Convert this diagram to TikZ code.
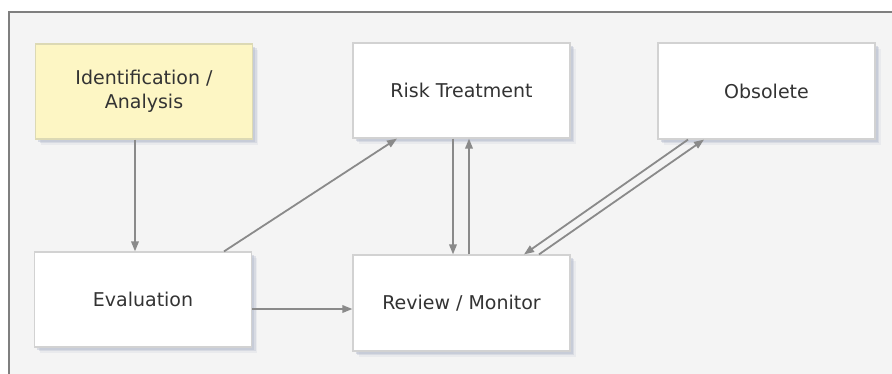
\documentclass[tikz,border=0pt]{standalone}
\usepackage{fontspec}
\setmainfont{DejaVu Sans}
\usetikzlibrary{shadows,arrows.meta}
\definecolor{bgc}{HTML}{F4F4F4}
\definecolor{framec}{HTML}{7F7F7F}
\definecolor{boxb}{HTML}{D2D2D2}
\definecolor{yel}{HTML}{FDF6C4}
\definecolor{yelb}{HTML}{DCD9B4}
\definecolor{txt}{HTML}{333333}
\definecolor{arrc}{HTML}{8A8A8A}
\definecolor{shad}{HTML}{B0B7CA}
\tikzset{
  box/.style={draw=boxb, line width=1.2pt, fill=white, minimum width=217pt, minimum height=95pt,
    align=center, text=txt, font=\fontsize{19}{24}\selectfont, inner sep=0pt,
    drop shadow={shadow xshift=5.5pt, shadow yshift=-5.5pt, fill=shad, opacity=0.15},
    drop shadow={shadow xshift=4pt, shadow yshift=-4pt, fill=shad, opacity=0.3},
    drop shadow={shadow xshift=2.5pt, shadow yshift=-2.5pt, fill=shad, opacity=0.4}},
  yellowbox/.style={box, fill=yel, draw=yelb},
  arr/.style={draw=arrc, line width=1.8pt, -{Triangle[length=10pt,width=7.5pt]}}
}
\begin{document}
\begin{tikzpicture}[x=1pt,y=-1pt]
\useasboundingbox (0,0) rectangle (892,373);
\clip (0,0) rectangle (892,373);
\fill[white] (0,0) rectangle (892,373);
\draw[framec, line width=2pt, fill=bgc] (9,12) rectangle (905,390);

\node[yellowbox] (ident) at (144,91.5) {Identification /\\Analysis};
\node[box] (eval) at (143,299.5) {Evaluation};
\node[box] (risk) at (461.5,90.5) {Risk Treatment};
\node[box, minimum height=96pt] (review) at (461.5,303) {Review / Monitor};
\node[box, minimum height=96pt] (obs) at (766.5,91) {Obsolete};

\draw[arr] ([xshift=-9pt]ident.south) -- ([xshift=-9pt]ident.south |- eval.north);
\draw[arr] ([xshift=81pt]eval.north) -- ([xshift=-64.5pt]risk.south);
\draw[arr] ([yshift=-9.5pt]eval.east) -- ([yshift=-9.5pt]eval.east -| review.west);
\draw[arr] ([xshift=-8.5pt]risk.south) -- ([xshift=-8.5pt]review.north);
\draw[arr] ([xshift=7.5pt]review.north) -- ([xshift=7.5pt]risk.south);
\draw[arr] ([xshift=-78.5pt]obs.south) -- ([xshift=62.5pt]review.north);
\draw[arr] ([xshift=77.5pt]review.north) -- ([xshift=-62.5pt]obs.south);
\end{tikzpicture}
\end{document}
